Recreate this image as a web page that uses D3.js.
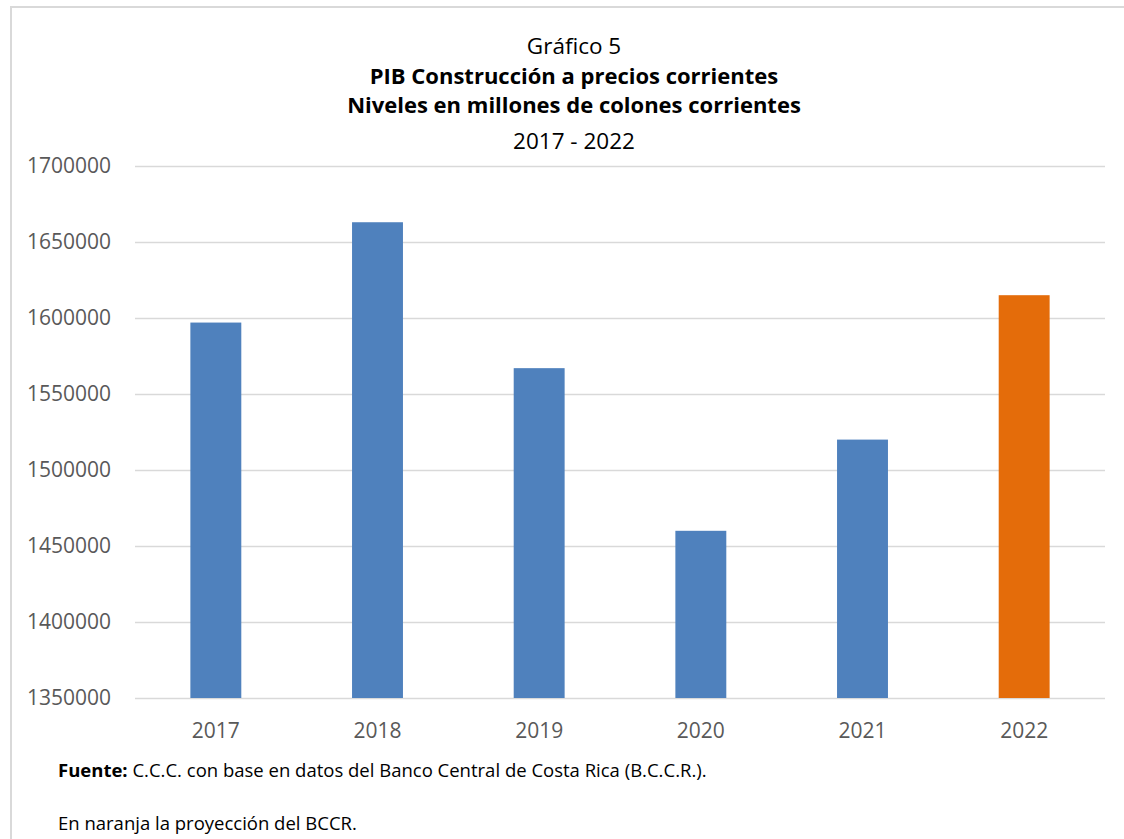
<!DOCTYPE html>
<html>
<head>
<meta charset="utf-8">
<script src="https://cdn.jsdelivr.net/npm/d3@7"></script>
<style>
  body { margin: 0; background: #fff; }
  svg text { font-family: "Open Sans", "Noto Sans", sans-serif; }
</style>
</head>
<body>
<div id="chart"></div>
<script>
// PIB Construcción — bar chart, 2022 is the BCCR projection (orange)
const years = ['2017', '2018', '2019', '2020', '2021', '2022'];
const values = [1597000, 1663000, 1567000, 1460000, 1520000, 1615000];
const projected = [false, false, false, false, false, true];
const yTicks = [1350000, 1400000, 1450000, 1500000, 1550000, 1600000, 1650000, 1700000];
const titleLines = ['Gráfico 5', 'PIB Construcción a precios corrientes',
  'Niveles en millones de colones corrientes', '2017 - 2022'];

const width = 1124, height = 839;
const margin = { top: 166, right: 19, bottom: 141, left: 135 };

const svg = d3.select('#chart').append('svg')
  .attr('width', width)
  .attr('height', height);

// outer frame (only top and left edges are visible in the picture)
svg.append('path')
  .attr('d', `M11,${height} L11,7 L${width},7`)
  .attr('fill', 'none')
  .attr('stroke', '#d9d9d9')
  .attr('stroke-width', 2);

const x = d3.scaleBand()
  .domain(years)
  .range([margin.left, width - margin.right])
  .paddingInner(0.685)
  .paddingOuter(0.3425);

const y = d3.scaleLinear()
  .domain([1350000, 1700000])
  .range([height - margin.bottom, margin.top]);

// gridlines + y labels
const yAxis = svg.append('g')
  .attr('transform', `translate(${margin.left},0)`)
  .call(d3.axisLeft(y)
    .tickValues(yTicks)
    .tickSize(-(width - margin.left - margin.right))
    .tickPadding(24)
    .tickFormat(d3.format('d')));
yAxis.select('.domain').remove();
yAxis.selectAll('.tick line').attr('stroke', '#d9d9d9').attr('stroke-width', 1.5);
yAxis.selectAll('.tick text')
  .attr('fill', '#595959')
  .style('font-size', '21px');

svg.append('g').selectAll('rect')
  .data(years)
  .join('rect')
  .attr('x', d => x(d))
  .attr('width', x.bandwidth())
  .attr('y', (d, i) => y(values[i]))
  .attr('height', (d, i) => y(1350000) - y(values[i]))
  .attr('fill', (d, i) => projected[i] ? '#e46c0a' : '#4f81bd');

// x labels
const xAxis = svg.append('g')
  .attr('transform', `translate(0,${height - margin.bottom})`)
  .call(d3.axisBottom(x).tickSize(0).tickPadding(25));
xAxis.select('.domain').remove();
xAxis.selectAll('.tick text')
  .attr('fill', '#595959')
  .style('font-size', '21px');

// title block
const tcx = 574;
const title = svg.append('g').attr('text-anchor', 'middle');
const titleY = [54, 84, 113, 149];
titleLines.forEach((t, i) => {
  const bold = i === 1 || i === 2;
  title.append('text')
    .attr('x', tcx)
    .attr('y', titleY[i])
    .attr('fill', '#000')
    .style('font-size', bold ? '22px' : '22.5px')
    .style('font-weight', bold ? 'bold' : 'normal')
    .text(t);
});

// footnotes
const note = svg.append('text')
  .attr('x', 58)
  .attr('y', 777)
  .attr('fill', '#000')
  .style('font-size', '18.5px');
note.append('tspan').style('font-weight', 'bold').text('Fuente:');
note.append('tspan').text(' C.C.C. con base en datos del Banco Central de Costa Rica (B.C.C.R.).');

svg.append('text')
  .attr('x', 58)
  .attr('y', 830)
  .attr('fill', '#000')
  .style('font-size', '18.5px')
  .text('En naranja la proyección del BCCR.');
</script>
</body>
</html>
